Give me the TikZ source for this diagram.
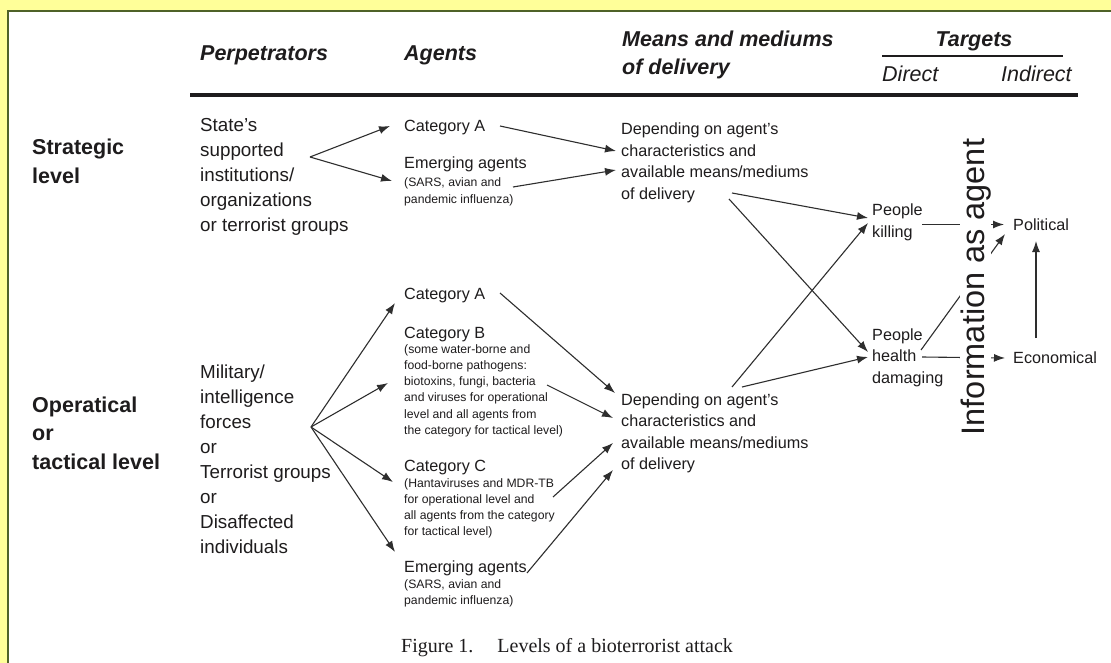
\documentclass[tikz,border=0pt]{standalone}
\usepackage{fontspec}
\setmainfont{Liberation Sans}
\newfontfamily\capfont{Liberation Serif}
\usetikzlibrary{arrows.meta,calc}
\definecolor{bgyellow}{HTML}{FFFF99}
\definecolor{frameline}{HTML}{4F6228}
\definecolor{ink}{HTML}{1E1C1D}
\definecolor{linec}{HTML}{2E2E2E}
\newcommand\mlines[1]{\begin{tabular}[t]{@{}l@{}}#1\end{tabular}}
\begin{document}
\begin{tikzpicture}[x=1pt,y=-1pt,
 txt/.style={inner sep=0pt, anchor=base west, text=ink},
 fbig/.style={font=\fontsize{18.8}{25}\selectfont},
 fmain/.style={font=\fontsize{16.2}{21.5}\selectfont},
 fsmall/.style={font=\fontsize{12.2}{16.3}\selectfont},
 flevel/.style={font=\bfseries\fontsize{21.5}{28.5}\selectfont},
 fhead/.style={font=\bfseries\itshape\fontsize{21.5}{28}\selectfont},
 fsub/.style={font=\itshape\fontsize{21.5}{28}\selectfont},
 arr/.style={draw=linec, line width=1.1pt, -{Latex[length=11pt,width=8pt]}},
 ln/.style={draw=linec, line width=1.1pt}]

\useasboundingbox (0,0) rectangle (1111,663);
\fill[bgyellow] (0,0) rectangle (1111,663);
\filldraw[fill=white, draw=frameline, line width=2.5pt] (8,11) rectangle (1130,690);

% headings
\node[txt, fhead] (hPerp) at (200,61) {Perpetrators};
\node[txt, fhead] (hAg) at (404,61) {Agents};
\node[txt, fhead] (hMeans) at (622,47) {\mlines{Means and mediums\\of delivery}};
\node[txt, fhead, anchor=base] (hTarg) at (974,47) {Targets};
\node[txt, fsub] (hDir) at (882,82) {Direct};
\node[txt, fsub] (hInd) at (1001,82) {Indirect};
\draw[ink, line width=2pt] (882,56) -- (1063,56);
\draw[ink, line width=3.5pt] (190,95) -- (1078,95);

% level labels
\node[txt, flevel] (lvS) at (32,155) {\mlines{Strategic\\level}};
\node[txt, flevel] (lvO) at (32,412) {\mlines{Operatical\\or\\tactical level}};

% strategic row
\node[txt, fbig] (pS) at (200,132) {\mlines{State's\\supported\\institutions/\\organizations\\or terrorist groups}};
\node[txt, fmain] (aSA) at (404,132) {Category A};
\node[txt, fmain] (aSE) at (404,169) {Emerging agents};
\node[txt, fsmall] (aSEs) at (404,187) {\mlines{(SARS, avian and\\pandemic influenza)}};
\node[txt, fmain] (mS) at (621,135) {\mlines{Depending on agent's\\characteristics and\\available means/mediums\\of delivery}};

% operational row
\node[txt, fbig] (pO) at (200,378) {\mlines{Military/\\intelligence\\forces\\or\\Terrorist groups\\or\\Disaffected\\individuals}};
\node[txt, fmain] (aOA) at (404,299) {Category A};
\node[txt, fmain] (aOB) at (404,338) {Category B};
\node[txt, fsmall] (aOBs) at (404,353) {\mlines{(some water-borne and\\food-borne pathogens:\\biotoxins, fungi, bacteria\\and viruses for operational\\level and all agents from\\the category for tactical level)}};
\node[txt, fmain] (aOC) at (404,471) {Category C};
\node[txt, fsmall] (aOCs) at (404,487) {\mlines{(Hantaviruses and MDR-TB\\for operational level and\\all agents from the category\\for tactical level)}};
\node[txt, fmain] (aOE) at (404,572) {Emerging agents};
\node[txt, fsmall] (aOEs) at (404,588) {\mlines{(SARS, avian and\\pandemic influenza)}};
\node[txt, fmain] (mO) at (621,405) {\mlines{Depending on agent's\\characteristics and\\available means/mediums\\of delivery}};

% targets
\node[txt, fmain] (tK) at (872,216) {\mlines{People\\killing}};
\node[txt, fmain] (tH) at (872,340) {\mlines{People\\health\\damaging}};
\node[txt, fmain] (tP) at (1013,230) {Political};
\node[txt, fmain] (tE) at (1013,363) {Economical};

% strategic arrows
\coordinate (jS) at ($(pS.base west)+(110,25)$);
\draw[arr] (jS) -- ($(aSA.base west)+(-14,-6)$);
\draw[arr] (jS) -- ($(aSE.base west)+(-12,12)$);
\draw[arr] ($(aSA.base west)+(96,-6)$) -- ($(mS.base west)+(-5,16)$);
\draw[arr] ($(aSEs.base west)+(109,0)$) -- ($(mS.base west)+(-5,35)$);
\draw[arr] ($(mS.base west)+(111,58)$) -- ($(tK.base west)+(-4,2)$);
\draw[arr] ($(mS.base west)+(108,64)$) -- ($(tH.base west)+(-4,12)$);

% operational arrows
\coordinate (jO) at ($(pO.base west)+(111,49)$);
\draw[arr] (jO) -- ($(aOA.base west)+(-9,4)$);
\draw[arr] (jO) -- ($(aOBs.base west)+(-16,30)$);
\draw[arr] (jO) -- ($(aOC.base west)+(-11,11)$);
\draw[arr] (jO) -- ($(aOE.base west)+(-9,-20)$);
\draw[arr] ($(aOA.base west)+(96,-6)$) -- ($(mO.base west)+(-6,-12)$);
\draw[arr] ($(aOBs.base west)+(143,32)$) -- ($(mO.base west)+(-8,13)$);
\draw[arr] ($(aOCs.base west)+(149,10)$) -- ($(mO.base west)+(-8,38)$);
\draw[arr] ($(aOE.base west)+(123,1)$) -- ($(mO.base west)+(-8,65)$);
\draw[arr] ($(mO.base west)+(111,-18)$) -- ($(tK.base west)+(-4,7)$);
\draw[arr] ($(mO.base west)+(121,-18)$) -- ($(tH.base west)+(-4,17)$);

% target arrows
\draw[arr] ($(tK.base west)+(50,8.5)$) -- ($(tP.base west)+(-9,-5.5)$);
\draw[arr] ($(tH.base west)+(49,10)$) -- ($(tP.base west)+(-8,4)$);
\draw[arr] ($(tH.base west)+(50,17)$) -- ($(tE.base west)+(-8,-5)$);
\draw[arr] ($(tE.base west)+(23,-25)$) -- ($(tP.base west)+(23,11)$);

\node[rotate=90, anchor=base, fill=white, inner sep=0.5pt, text=ink, font=\fontsize{32.5}{33}\selectfont] (info) at (984,287) {Information as agent};

% caption
\node[txt, font=\capfont\fontsize{20}{24}\selectfont] (cap) at (401,652) {Figure 1.\hspace{24pt}Levels of a bioterrorist attack};
\end{tikzpicture}
\end{document}
